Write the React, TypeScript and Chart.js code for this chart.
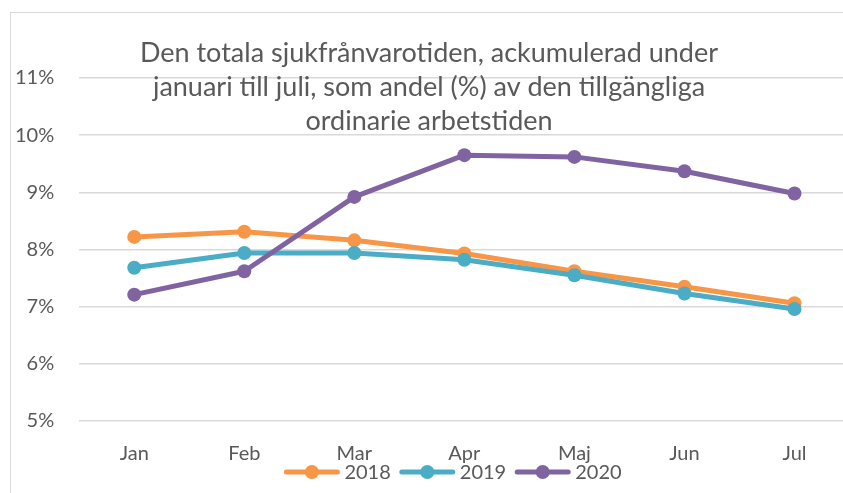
import React, { useEffect, useRef } from "react";
import { Chart, registerables } from "chart.js";

Chart.register(...registerables);

// ---- Data ----
const MONTHS = ["Jan", "Feb", "Mar", "Apr", "Maj", "Jun", "Jul"];
const SERIES_LABELS = ["2018", "2019", "2020"];
const VALUES_2018 = [8.22, 8.31, 8.16, 7.93, 7.62, 7.35, 7.06];
const VALUES_2019 = [7.68, 7.94, 7.94, 7.82, 7.55, 7.23, 6.96];
const VALUES_2020 = [7.21, 7.62, 8.92, 9.65, 9.62, 9.37, 8.98];
const Y_MIN = 5;
const Y_MAX = 11;
const Y_STEP = 1;
const TITLE_LINES = [
  "Den totala sjukfrånvarotiden, ackumulerad under",
  "januari till juli, som andel (%) av den tillgängliga",
  "ordinarie arbetstiden",
];

// ---- Style ----
const FONT = "Lato, 'Open Sans', sans-serif";
const TEXT_COLOR = "#595959";
const GRID_COLOR = "#D9D9D9";
const COLORS = ["#F79646", "#4BACC6", "#8064A2"];

const titlePlugin = {
  id: "overlayTitle",
  afterDraw(chart: any) {
    const ctx = chart.ctx;
    ctx.save();
    ctx.font = `27px ${FONT}`;
    ctx.fillStyle = TEXT_COLOR;
    ctx.textAlign = "center";
    ctx.textBaseline = "alphabetic";
    TITLE_LINES.forEach((line, i) => {
      ctx.fillText(line, 429, 62 + i * 34);
    });
    ctx.restore();
  },
};

const legendPlugin = {
  id: "lineDotLegend",
  afterDraw(chart: any) {
    const ctx = chart.ctx;
    ctx.save();
    ctx.font = `20px ${FONT}`;
    const sampleW = 55;
    const gapText = 5;
    const gapItem = 9;
    const items = chart.data.datasets.map((ds: any) => ({
      label: ds.label as string,
      color: ds.borderColor as string,
      w: ctx.measureText(ds.label).width,
    }));
    const total =
      items.reduce((s: number, it: any) => s + sampleW + gapText + it.w, 0) +
      gapItem * (items.length - 1);
    let x = 453 - total / 2;
    const y = 472;
    for (const it of items) {
      ctx.strokeStyle = it.color;
      ctx.lineWidth = 5;
      ctx.lineCap = "round";
      ctx.beginPath();
      ctx.moveTo(x + 2, y);
      ctx.lineTo(x + sampleW - 2, y);
      ctx.stroke();
      ctx.fillStyle = it.color;
      ctx.beginPath();
      ctx.arc(x + sampleW / 2, y, 7, 0, Math.PI * 2);
      ctx.fill();
      ctx.fillStyle = TEXT_COLOR;
      ctx.textAlign = "left";
      ctx.textBaseline = "middle";
      ctx.fillText(it.label, x + sampleW + gapText, y + 1);
      x += sampleW + gapText + it.w + gapItem;
    }
    ctx.restore();
  },
};

export default function App() {
  const canvasRef = useRef<HTMLCanvasElement | null>(null);

  useEffect(() => {
    if (!canvasRef.current) return;
    const series = [VALUES_2018, VALUES_2019, VALUES_2020];
    const chart = new Chart(canvasRef.current, {
      type: "line",
      data: {
        labels: MONTHS,
        datasets: series.map((values, i) => ({
          label: SERIES_LABELS[i],
          data: values,
          borderColor: COLORS[i],
          backgroundColor: COLORS[i],
          pointBackgroundColor: COLORS[i],
          pointBorderColor: COLORS[i],
          borderWidth: 5,
          pointRadius: 7,
          pointBorderWidth: 0,
          pointHoverRadius: 7,
          tension: 0,
          borderJoinStyle: "round" as const,
          order: series.length - i,
        })),
      },
      options: {
        responsive: false,
        animation: false,
        layout: { padding: { top: 78, left: -10, right: 10.5, bottom: 6 } },
        plugins: {
          legend: { display: false },
          title: { display: false },
          tooltip: { enabled: false },
        },
        scales: {
          x: {
            offset: true,
            grid: { display: false, drawTicks: false },
            border: { display: false },
            ticks: {
              color: TEXT_COLOR,
              font: { family: FONT, size: 20 },
              padding: 21,
            },
          },
          y: {
            min: Y_MIN,
            max: Y_MAX,
            grid: { color: GRID_COLOR, lineWidth: 1.5, drawTicks: false },
            border: { display: false },
            ticks: {
              stepSize: Y_STEP,
              color: TEXT_COLOR,
              font: { family: FONT, size: 20 },
              padding: 25,
              callback: (v: any) => `${v}%`,
            },
          },
        },
      },
      plugins: [titlePlugin, legendPlugin],
    });
    return () => chart.destroy();
  }, []);

  return (
    <div
      style={{
        position: "fixed",
        left: 0,
        top: 0,
        width: 843,
        height: 493,
        overflow: "hidden",
        background: "#fff",
      }}
    >
      <div
        style={{
          position: "absolute",
          left: 10,
          top: 12,
          width: 900,
          height: 600,
          border: `1px solid ${GRID_COLOR}`,
          boxSizing: "border-box",
        }}
      />
      <canvas
        ref={canvasRef}
        width={860}
        height={493}
        style={{ position: "absolute", left: 0, top: 0, width: 860, height: 493 }}
      />
    </div>
  );
}
